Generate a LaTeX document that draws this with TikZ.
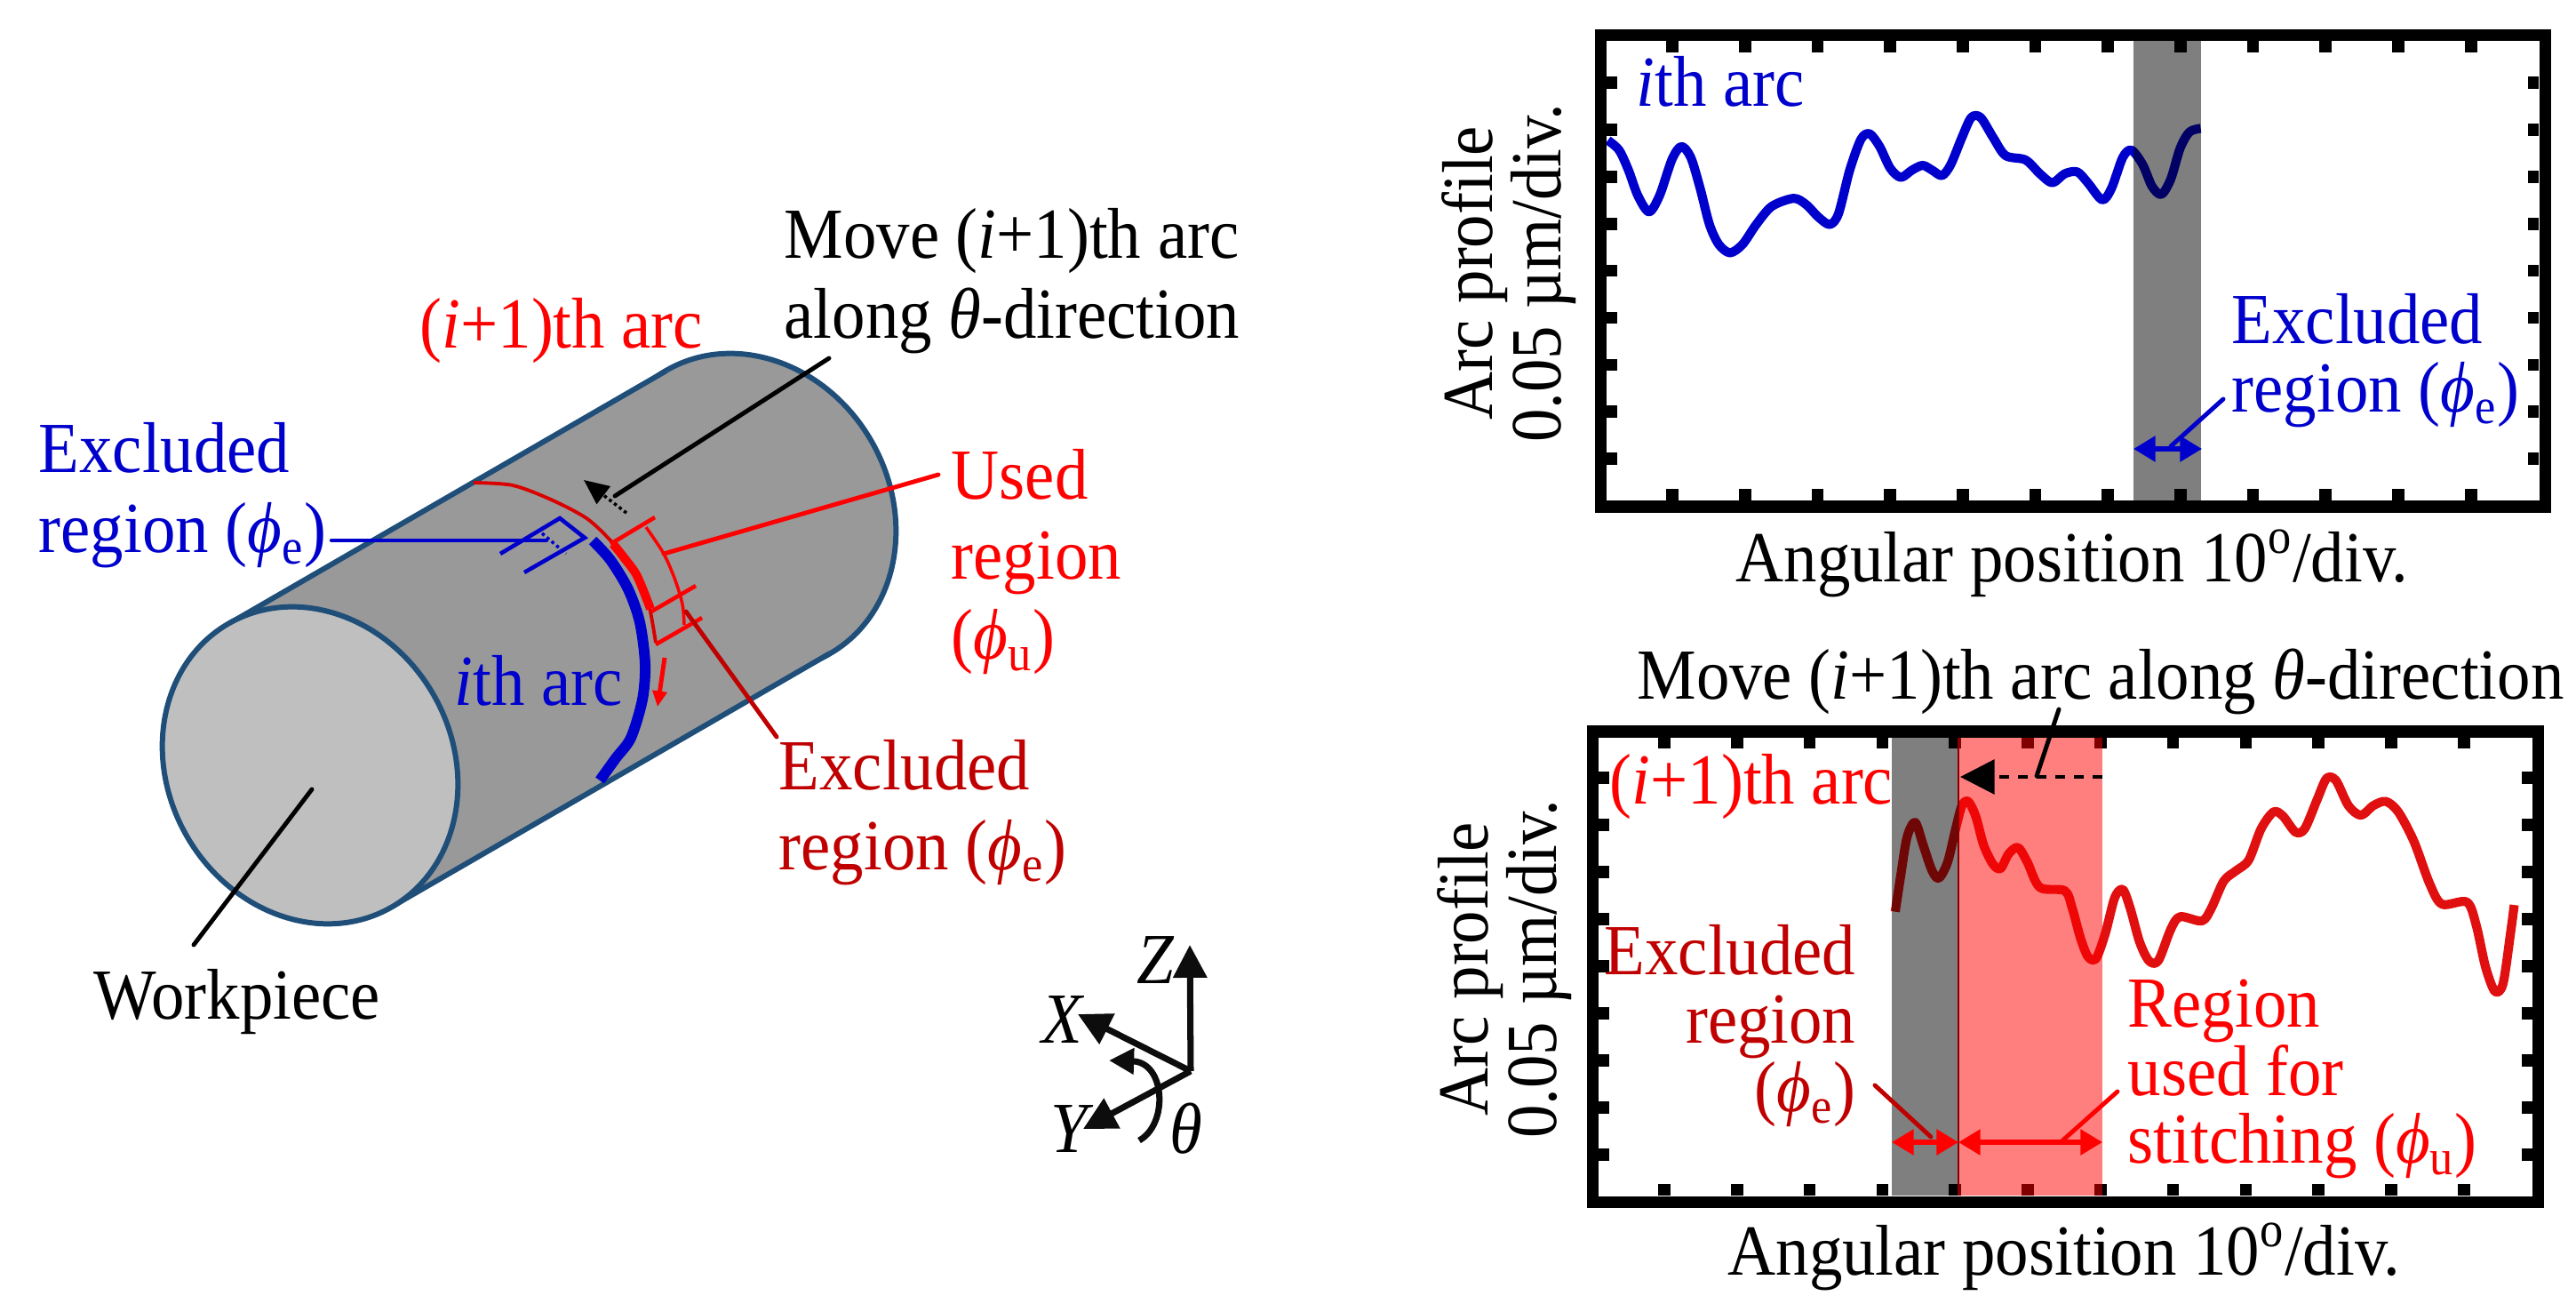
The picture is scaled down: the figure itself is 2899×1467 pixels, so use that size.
\documentclass[tikz,border=0pt]{standalone}
\usepackage{fontspec}
\setmainfont[FakeStretch=0.925]{Liberation Serif}
\usetikzlibrary{arrows.meta,positioning}
\definecolor{cylline}{HTML}{1F4E79}
\definecolor{cylbody}{HTML}{999999}
\definecolor{cylfront}{HTML}{BFBFBF}
\definecolor{arcblue}{HTML}{0000CC}
\definecolor{arcdark}{HTML}{C00000}
\definecolor{arcred}{HTML}{FF0000}
\definecolor{curvered}{HTML}{E01010}
\newcommand{\phisub}[1]{(\textit{ϕ}\textsubscript{#1})}
\newcommand{\ivar}{\textit{i}}

\begin{document}
\begin{tikzpicture}[
  x=0.01cm, y=-0.01cm,
  lab/.style={inner sep=0, font=\fontsize{23}{25.6}\selectfont, align=left},
  labtight/.style={lab, font=\fontsize{23}{21.8}\selectfont},
  axlab/.style={lab, font=\fontsize{23}{25.6}\selectfont\itshape},
  cyl/.style={draw=cylline, line width=1.7pt},
  lead/.style={line width=1.4pt, line cap=round},
  frame/.style={draw=black, line width=3.7pt},
  tickmark/.style={black, line width=3.9pt},
  profile/.style={line width=2.9pt, line join=round},
  dim/.style={line width=1.3pt},
  dbl/.style={{Triangle[length=7pt,width=8pt]}-{Triangle[length=7pt,width=8pt]}, line width=1.5pt},
  axisarr/.style={-{Triangle[length=10.5pt,width=10.5pt]}, line width=2pt, black!95}
]
  \useasboundingbox (0,0) rectangle (2899,1467);

  % workpiece
  \coordinate (frontc) at (349,861);
  \coordinate (backc) at (842,576);
  \fill[cylbody, cyl] (backc) circle [x radius=160, y radius=184, rotate=30];
  \fill[cylbody] (257,702) -- (750,417) -- (934,735) -- (441,1020) -- cycle;
  \draw[cyl] (257,702) -- (750,417);
  \draw[cyl] (441,1020) -- (934,735);
  \fill[cylfront, cyl] (frontc) circle [x radius=160, y radius=184, rotate=30];

  % arcs on the workpiece
  \draw[arcdark!60!arcred, line width=1.1pt] plot[smooth] coordinates {(533,543) (577,546) (620,562) (660,583) (687,608) (707,633) (727,667) (738,723)};
  \draw[arcblue, line width=3.4pt] plot[smooth] coordinates {(667,608) (687,630) (707,663) (720,700) (726,747) (723,787) (710,830) (693,853) (675,878)};
  \draw[arcred, line width=2.8pt] plot[smooth] coordinates {(690,612) (702,627) (717,648) (732,685)};
  \draw[arcred, dim] (687,612) -- (737,582);
  \draw[arcred, dim] (733,688) -- (783,659);
  \draw[arcred, dim] (738,725) -- (790,695);
  \draw[arcred, line width=1pt] plot[smooth] coordinates {(727,593) (747,623) (760,653) (768,680) (770,703)};
  \draw[-{Triangle[length=5pt,width=4.5pt]}, arcred, line width=1.4pt] (748,740) -- (740,795);
  \draw[arcblue, dim] (563,623) -- (630,583) -- (658,605) -- (590,644);
  \draw[arcblue, line width=1pt, densely dotted] (610,600) -- (637,623);
  \draw[-{Triangle[length=8pt,width=7pt]}, densely dotted, line width=1pt] (705,577) -- (657,540);

  % workpiece labels
  \node[lab, anchor=west] (movetxt) at (882,316) {Move (\ivar+1)th arc\\along \textit{θ}-direction};
  \node[lab, anchor=west, arcred] (nextarc) at (472,372) {(\ivar+1)th arc};
  \node[lab, anchor=west, arcblue] (exblue) at (43,557) {Excluded\\region \phisub{e}};
  \node[lab, anchor=west, arcred] (usedtxt) at (1070,632) {Used\\region\\\phisub{u}};
  \node[lab, anchor=west, arcdark] (exred) at (876,914) {Excluded\\region \phisub{e}};
  \node[lab, arcblue] (itharc) at (606,766) {\ivar th arc};
  \node[lab] (wptxt) at (267,1127) {Workpiece};

  \coordinate (moveend) at (692,558);
  \coordinate (usedend) at (747,623);
  \coordinate (exredend) at (772,688);
  \coordinate (exblueend) at (615,608);
  \coordinate (wpend) at (351,888);
  \draw[lead] (933,403) -- (moveend);
  \draw[lead, arcred] (1056,534) -- (usedend);
  \draw[lead, arcdark] (874,829) -- (exredend);
  \draw[lead, arcblue, line width=1.2pt] (373,608) -- (exblueend);
  \draw[lead] (wpend) -- (218,1063);

  % axes
  \coordinate (orig) at (1340,1205);
  \draw[axisarr] (orig) -- (1339,1063);
  \draw[axisarr] (orig) -- (1213,1141);
  \draw[axisarr] (orig) -- (1219,1270);
  \draw[axisarr, -{Triangle[length=8pt,width=8pt]}] (1282,1283) .. controls (1315,1265) and (1312,1195) .. (1248,1193);
  \node[axlab] (zlab) at (1300,1080) {Z};
  \node[axlab] (xlab) at (1195,1147) {X};
  \node[axlab] (ylab) at (1203,1270) {Y};
  \node[axlab] (thlab) at (1335,1270) {θ};

  % upper plot
  \begin{scope}[shift={(1780,20)}, xscale=0.7015, yscale=0.408]
    \draw[profile, arcblue] plot[smooth, tension=.5] coordinates {(42,338) (60,365) (75,420) (90,490) (108,535) (125,490) (145,390) (160,355) (175,385) (190,470) (205,570) (220,625) (238,648) (258,625) (280,570) (305,520) (340,498) (360,515) (380,550) (398,570) (412,540) (430,420) (448,335) (462,320) (478,355) (495,415) (512,440) (530,420) (547,407) (562,420) (578,435) (592,405) (610,330) (625,275) (640,275) (660,330) (680,380) (712,392) (735,430) (755,455) (775,430) (795,425) (812,455) (835,502) (850,470) (868,385) (882,365) (900,405) (915,465) (930,487) (945,445) (960,360) (975,315) (993,305)};
  \end{scope}
  \foreach \n in {0,...,11} {
    \draw[tickmark] ({1882+81.7*\n},46) -- ++(0,13);
    \draw[tickmark] ({1882+81.7*\n},563) -- ++(0,-13);
  }
  \foreach \n in {0,...,8} {
    \draw[tickmark] (1808,{93+52.9*\n}) -- ++(12,0);
    \draw[tickmark] (2857,{93+52.9*\n}) -- ++(-12,0);
  }
  \fill[black, opacity=.5] (2401,46) rectangle (2477,563);
  \draw[frame] (1801,40) rectangle (2864,570);
  \draw[dbl, arcblue] (2401,505) -- (2478,505);
  \coordinate (upbandmid) at (2443,502);
  \draw[lead, arcblue] (2502,449) -- (upbandmid);
  \node[lab, arcblue] (upith) at (1936,92) {\ivar th arc};
  \node[labtight, anchor=west, arcblue] (upex) at (2511,406) {Excluded\\region \phisub{e}};
  \node[lab] (upxlab) at (2332,634) {Angular position 10\textsuperscript{o}/div.};
  \node[lab, rotate=90, align=center, font=\fontsize{23}{20.5}\selectfont] (upylab) at (1698,307) {Arc profile\\0.05 µm/div.};

  % lower plot
  \begin{scope}[shift={(1780,720)}, xscale=0.7015, yscale=0.4717]
    \draw[profile, curvered] plot[smooth, tension=.5] coordinates {(503,648) (512,560) (522,470) (535,435) (548,490) (562,550) (573,568) (587,530) (600,450) (610,395) (620,385) (632,420) (645,490) (660,535) (672,545) (685,510) (700,495) (715,530) (735,590) (775,598) (787,640) (800,710) (812,755) (825,760) (840,700) (855,615) (868,595) (880,640) (895,720) (910,765) (925,765) (945,690) (960,660) (995,670) (1010,640) (1030,575) (1050,550) (1070,525) (1090,450) (1110,410) (1125,420) (1145,458) (1160,450) (1180,380) (1195,330) (1210,335) (1230,395) (1250,418) (1270,395) (1290,385) (1310,410) (1335,480) (1360,580) (1380,630) (1420,625) (1435,680) (1450,780) (1465,838) (1478,820) (1490,700) (1496,632)};
  \end{scope}
  \foreach \n in {0,...,11} {
    \draw[tickmark] ({1873+81.8*\n},829) -- ++(0,13);
    \draw[tickmark] ({1873+81.8*\n},1345) -- ++(0,-13);
  }
  \foreach \n in {0,...,8} {
    \draw[tickmark] (1799,{875+53*\n}) -- ++(12,0);
    \draw[tickmark] (2850,{875+53*\n}) -- ++(-12,0);
  }
  \fill[black, opacity=.5] (2129,829) rectangle (2204,1345);
  \fill[arcred, opacity=.5] (2204,829) rectangle (2366,1345);
  \draw[arcdark!70!black, line width=.4pt] (2204,829) -- (2204,1345);
  \draw[frame] (1792,823) rectangle (2856,1352);
  \draw[dbl, arcred] (2129,1285) -- (2204,1285);
  \draw[dbl, arcred] (2204,1285) -- (2366,1285);
  \draw[-{Triangle[length=11pt,width=11pt]}, dashed, line width=1.2pt] (2366,874) -- (2206,874);
  \coordinate (moveleadend) at (2292,873);
  \coordinate (ubandmid) at (2319,1285);
  \coordinate (ebandmid) at (2173,1279);
  \draw[lead] (2317,798) -- (moveleadend);
  \draw[lead, arcred] (2383,1228) -- (ubandmid);
  \draw[lead, arcdark] (2110,1221) -- (ebandmid);
  \node[lab] (lowmove) at (2364,767) {Move (\ivar+1)th arc along \textit{θ}-direction};
  \node[lab, arcred] (lownext) at (1971,885) {(\ivar+1)th arc};
  \node[labtight, anchor=east, align=right, arcdark] (lowex) at (2089,1154) {Excluded\\region\\\phisub{e}};
  \node[labtight, anchor=west, arcred] (lowreg) at (2394,1214) {Region\\used for\\stitching \phisub{u}};
  \node[lab] (lowxlab) at (2323,1414) {Angular position 10\textsuperscript{o}/div.};
  \node[lab, rotate=90, align=center, font=\fontsize{23}{20.5}\selectfont] (lowylab) at (1693,1090) {Arc profile\\0.05 µm/div.};
\end{tikzpicture}
\end{document}
